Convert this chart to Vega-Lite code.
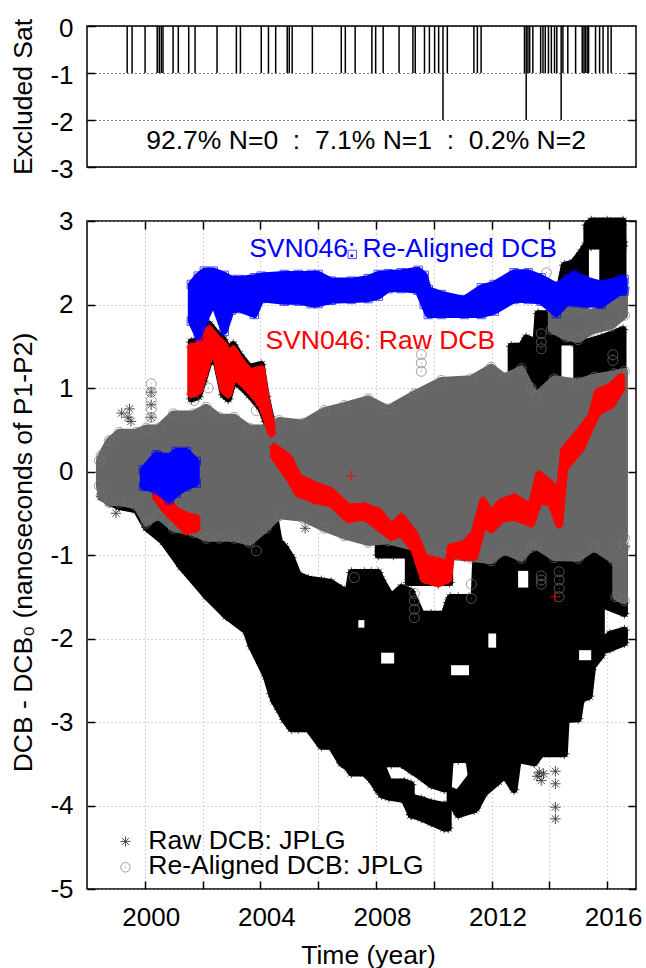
{"$schema":"https://vega.github.io/schema/vega-lite/v6.json","padding":{"left":10,"top":14,"right":0,"bottom":0},"background":"white","spacing":24,
"config":{"font":"Liberation Sans","view":{"stroke":"black","strokeWidth":1.5},"axis":{"labelFont":"Liberation Sans","titleFont":"Liberation Sans","labelFontSize":26,"titleFontSize":26.5,"titleFontWeight":"normal","labelColor":"black","titleColor":"black","tickColor":"black","tickWidth":1.5,"domain":false}},
"datasets":{"top":[{"t":1999.39,"n":-1},{"t":1999.56,"n":-1},{"t":2000.01,"n":-1},{"t":2000.43,"n":-1},{"t":2000.5,"n":-1},{"t":2000.57,"n":-1},{"t":2000.63,"n":-1},{"t":2000.98,"n":-1},{"t":2001.16,"n":-1},{"t":2001.52,"n":-1},{"t":2001.74,"n":-1},{"t":2002.5,"n":-1},{"t":2003.17,"n":-1},{"t":2003.31,"n":-1},{"t":2004.03,"n":-1},{"t":2004.28,"n":-1},{"t":2004.53,"n":-1},{"t":2004.93,"n":-1},{"t":2005.0,"n":-1},{"t":2005.1,"n":-1},{"t":2005.8,"n":-1},{"t":2006.8,"n":-1},{"t":2006.94,"n":-1},{"t":2007.28,"n":-1},{"t":2007.86,"n":-1},{"t":2007.99,"n":-1},{"t":2008.25,"n":-1},{"t":2008.8,"n":-1},{"t":2009.28,"n":-1},{"t":2009.36,"n":-1},{"t":2009.68,"n":-1},{"t":2009.85,"n":-1},{"t":2010.03,"n":-1},{"t":2010.17,"n":-1},{"t":2010.32,"n":-2},{"t":2010.47,"n":-1},{"t":2011.39,"n":-1},{"t":2011.51,"n":-1},{"t":2011.64,"n":-1},{"t":2013.14,"n":-1},{"t":2013.2,"n":-2},{"t":2013.26,"n":-1},{"t":2013.32,"n":-1},{"t":2013.43,"n":-1},{"t":2013.7,"n":-1},{"t":2013.78,"n":-1},{"t":2013.86,"n":-1},{"t":2013.97,"n":-1},{"t":2014.07,"n":-1},{"t":2014.18,"n":-1},{"t":2014.26,"n":-1},{"t":2014.41,"n":-2},{"t":2014.47,"n":-1},{"t":2014.64,"n":-1},{"t":2014.91,"n":-1},{"t":2015.14,"n":-1},{"t":2015.2,"n":-1},{"t":2015.25,"n":-1},{"t":2015.31,"n":-1},{"t":2015.36,"n":-1},{"t":2015.6,"n":-1},{"t":2015.74,"n":-1},{"t":2015.86,"n":-1},{"t":2016.03,"n":-1},{"t":2016.14,"n":-1}],
"note":[{"t":2007.66,"v":-2.45,"c":"k","label":"92.7% N=0\u00a0\u00a0:\u00a0\u00a07.1% N=1\u00a0\u00a0:\u00a0\u00a00.2% N=2"}],
"labels":[{"t":2008.94,"v":2.66,"label":"SVN046: Re-Aligned DCB","c":"#0000ff"},{"t":2008.15,"v":1.56,"label":"SVN046: Raw DCB","c":"#ff0000"}],
"legkeyraw":[{"t":1999.33,"v":-4.43}],"legkeygray":[{"t":1999.33,"v":-4.74}],
"legtext":[{"t":2000.12,"v":-4.42,"label":"Raw DCB: JPLG"},{"t":2000.12,"v":-4.73,"label":"Re-Aligned DCB: JPLG"}],
"holes":[{"p":"1","t":2010.6,"lo":-2.44,"hi":-2.32},{"p":"1","t":2011.22,"lo":-2.44,"hi":-2.32},{"p":"2","t":2008.18,"lo":-2.3,"hi":-2.17},{"p":"2","t":2008.63,"lo":-2.3,"hi":-2.17},{"p":"3","t":2011.89,"lo":-2.11,"hi":-1.94},{"p":"3","t":2012.16,"lo":-2.11,"hi":-1.94},{"p":"4","t":2007.39,"lo":-1.87,"hi":-1.78},{"p":"4","t":2007.6,"lo":-1.87,"hi":-1.78},{"p":"5","t":2015.03,"lo":-2.26,"hi":-2.14},{"p":"5","t":2015.45,"lo":-2.26,"hi":-2.14},{"p":"6","t":2012.92,"lo":-1.39,"hi":-1.19},{"p":"6","t":2013.27,"lo":-1.39,"hi":-1.19}],
"raw":[{"p":"a","t":1998.49,"lo":-0.3,"hi":0},{"p":"a","t":1998.77,"lo":-0.37,"hi":0},{"p":"a","t":1999.12,"lo":-0.42,"hi":0},{"p":"a","t":1999.71,"lo":-0.46,"hi":0},{"p":"a","t":2000.05,"lo":-0.67,"hi":0},{"p":"a","t":2000.64,"lo":-0.84,"hi":-0.3},{"p":"a","t":2001.26,"lo":-1.14,"hi":-0.4},{"p":"a","t":2002.13,"lo":-1.49,"hi":-0.4},{"p":"a","t":2002.82,"lo":-1.73,"hi":-0.4},{"p":"a","t":2003.51,"lo":-1.91,"hi":-0.4},{"p":"a","t":2003.69,"lo":-2.09,"hi":-0.4},{"p":"a","t":2004.2,"lo":-2.45,"hi":-0.4},{"p":"a","t":2004.38,"lo":-2.66,"hi":-0.45},{"p":"a","t":2004.48,"lo":-2.75,"hi":-0.5},{"p":"a","t":2004.65,"lo":-2.85,"hi":-0.84},{"p":"a","t":2004.83,"lo":-2.97,"hi":-0.9},{"p":"a","t":2005.07,"lo":-3.08,"hi":-1.03},{"p":"a","t":2005.31,"lo":-3.08,"hi":-1.24},{"p":"a","t":2005.66,"lo":-3.08,"hi":-1.29},{"p":"a","t":2006.11,"lo":-3.29,"hi":-1.31},{"p":"a","t":2006.45,"lo":-3.29,"hi":-1.33},{"p":"a","t":2006.8,"lo":-3.49,"hi":-1.41},{"p":"a","t":2007.04,"lo":-3.55,"hi":-1.44},{"p":"a","t":2007.15,"lo":-3.61,"hi":-1.21},{"p":"a","t":2007.6,"lo":-3.61,"hi":-1.21},{"p":"a","t":2007.84,"lo":-3.69,"hi":-1.21},{"p":"a","t":2008.08,"lo":-3.82,"hi":-1.21},{"p":"a","t":2008.19,"lo":-3.5,"hi":-1.3},{"p":"a","t":2008.53,"lo":-3.5,"hi":-1.5},{"p":"a","t":2008.88,"lo":-3.5,"hi":-1.39},{"p":"a","t":2009.22,"lo":-3.58,"hi":-1.44},{"p":"a","t":2009.57,"lo":-3.66,"hi":-1.71},{"p":"a","t":2009.91,"lo":-3.75,"hi":-1.71},{"p":"a","t":2010.36,"lo":-3.8,"hi":-1.71},{"p":"a","t":2010.5,"lo":-3.8,"hi":-1.57},{"p":"a","t":2010.57,"lo":-3.45,"hi":-1.51},{"p":"a","t":2010.85,"lo":-3.45,"hi":-1.51},{"p":"a","t":2011.22,"lo":-3.45,"hi":-1.51},{"p":"a","t":2011.4,"lo":-3.9,"hi":-1.51},{"p":"a","t":2011.47,"lo":-4.03,"hi":-0.9},{"p":"a","t":2011.75,"lo":-3.85,"hi":-0.9},{"p":"a","t":2012.23,"lo":-3.71,"hi":-0.9},{"p":"a","t":2012.44,"lo":-3.63,"hi":-0.9},{"p":"a","t":2012.78,"lo":-3.81,"hi":-0.9},{"p":"a","t":2012.92,"lo":-3.45,"hi":-0.9},{"p":"a","t":2013.48,"lo":-3.49,"hi":-0.9},{"p":"a","t":2013.72,"lo":-3.38,"hi":-0.9},{"p":"a","t":2014.52,"lo":-3.38,"hi":-0.9},{"p":"a","t":2014.58,"lo":-2.97,"hi":-0.9},{"p":"a","t":2015.0,"lo":-2.96,"hi":-0.9},{"p":"a","t":2015.1,"lo":-2.73,"hi":-0.9},{"p":"a","t":2015.38,"lo":-2.69,"hi":-0.9},{"p":"a","t":2015.5,"lo":-2.33,"hi":-0.9},{"p":"a","t":2015.8,"lo":-2.2,"hi":-0.9},
{"p":"n","t":2008.19,"lo":-3.87,"hi":-3.5},{"p":"n","t":2008.45,"lo":-3.9,"hi":-3.72},{"p":"n","t":2008.98,"lo":-3.93,"hi":-3.72},{"p":"n","t":2009.22,"lo":-4.11,"hi":-3.75},
{"p":"m","t":2009.22,"lo":-4.11,"hi":-3.9},{"p":"m","t":2009.57,"lo":-4.15,"hi":-3.93},{"p":"m","t":2009.91,"lo":-4.2,"hi":-3.97},{"p":"m","t":2010.36,"lo":-4.27,"hi":-4.0},{"p":"m","t":2010.5,"lo":-4.27,"hi":-4.0},
{"p":"l","t":2010.57,"lo":-3.95,"hi":-3.82},{"p":"l","t":2010.85,"lo":-4.11,"hi":-3.85},{"p":"l","t":2011.4,"lo":-4.05,"hi":-3.6},
{"p":"b","t":2008.08,"lo":-1.0,"hi":-0.7},{"p":"b","t":2008.6,"lo":-1.0,"hi":-0.7},{"p":"b","t":2009.12,"lo":-1.0,"hi":-0.7},
{"p":"c","t":2009.12,"lo":-1.33,"hi":-0.9},{"p":"c","t":2010.55,"lo":-1.33,"hi":-0.9},
{"p":"d","t":2015.8,"lo":-2.15,"hi":-2.05},{"p":"d","t":2016.1,"lo":-2.12,"hi":-1.95},{"p":"d","t":2016.6,"lo":-2.05,"hi":-1.9},
{"p":"e","t":2015.85,"lo":-1.6,"hi":-0.9},{"p":"e","t":2016.6,"lo":-1.7,"hi":-0.9},
{"p":"f","t":2012.68,"lo":0.95,"hi":1.5},{"p":"f","t":2013.03,"lo":0.95,"hi":1.5},{"p":"f","t":2013.2,"lo":0.95,"hi":1.6},{"p":"f","t":2013.54,"lo":0.9,"hi":1.55},{"p":"f","t":2013.61,"lo":0.95,"hi":1.89},{"p":"f","t":2014.0,"lo":0.95,"hi":1.89},{"p":"f","t":2014.07,"lo":1.0,"hi":1.6},{"p":"f","t":2014.3,"lo":1.0,"hi":1.6},
{"p":"g","t":2014.3,"lo":1.55,"hi":1.62},{"p":"g","t":2015.0,"lo":1.55,"hi":1.62},
{"p":"h","t":2014.95,"lo":1.0,"hi":1.5},{"p":"h","t":2015.3,"lo":1.0,"hi":1.55},{"p":"h","t":2015.8,"lo":1.0,"hi":1.6},{"p":"h","t":2016.55,"lo":1.0,"hi":1.7},
{"p":"i","t":2014.31,"lo":2.0,"hi":2.12},{"p":"i","t":2014.52,"lo":2.0,"hi":2.47},{"p":"i","t":2014.83,"lo":2.0,"hi":2.5},{"p":"i","t":2015.1,"lo":2.0,"hi":2.62},{"p":"i","t":2015.25,"lo":2.0,"hi":2.7},
{"p":"j","t":2015.3,"lo":2.7,"hi":2.95},{"p":"j","t":2015.45,"lo":2.7,"hi":3.0},{"p":"j","t":2016.0,"lo":2.7,"hi":3.0},{"p":"j","t":2016.55,"lo":2.7,"hi":3.0},
{"p":"k","t":2015.85,"lo":2.0,"hi":2.75},{"p":"k","t":2016.55,"lo":2.0,"hi":2.75},
{"p":"s","t":2001.61,"lo":0.87,"hi":1.55},{"p":"s","t":2001.85,"lo":0.9,"hi":1.56},{"p":"s","t":2002.02,"lo":1.08,"hi":1.7},{"p":"s","t":2002.23,"lo":1.32,"hi":1.76},{"p":"s","t":2002.47,"lo":1.32,"hi":1.66},{"p":"s","t":2002.72,"lo":0.92,"hi":1.58},{"p":"s","t":2002.89,"lo":0.87,"hi":1.46},{"p":"s","t":2003.06,"lo":1.08,"hi":1.52},{"p":"s","t":2003.27,"lo":1.04,"hi":1.4},{"p":"s","t":2003.62,"lo":0.92,"hi":1.25},{"p":"s","t":2004.03,"lo":0.75,"hi":1.28},{"p":"s","t":2004.2,"lo":0.6,"hi":0.9},{"p":"s","t":2004.38,"lo":0.4,"hi":0.62},
{"p":"o","t":2014.21,"lo":-3.59},{"p":"o","t":2014.21,"lo":-3.74},{"p":"o","t":2014.21,"lo":-4.02},{"p":"o","t":2014.21,"lo":-4.16},{"p":"o","t":2013.58,"lo":-3.65},{"p":"o","t":2013.65,"lo":-3.6},{"p":"o","t":2013.72,"lo":-3.7},{"p":"o","t":2013.8,"lo":-3.62},{"p":"o","t":1999.47,"lo":0.75},{"p":"o","t":1999.42,"lo":0.65},{"p":"o","t":1999.52,"lo":0.6},{"p":"o","t":1999.2,"lo":0.7},{"p":"o","t":1999.0,"lo":-0.5},{"p":"o","t":2005.55,"lo":-0.68},{"p":"o","t":2000.22,"lo":0.95},{"p":"o","t":2000.22,"lo":0.8},{"p":"o","t":2000.22,"lo":0.65}],
"gray":[{"p":"a","t":1998.43,"lo":-0.17,"hi":0.13},{"p":"a","t":1998.49,"lo":-0.29,"hi":0.19},{"p":"a","t":1998.77,"lo":-0.37,"hi":0.37},{"p":"a","t":1999.12,"lo":-0.37,"hi":0.47},{"p":"a","t":1999.71,"lo":-0.41,"hi":0.47},{"p":"a","t":2000.05,"lo":-0.62,"hi":0.52},{"p":"a","t":2000.47,"lo":-0.53,"hi":0.52},{"p":"a","t":2000.99,"lo":-0.68,"hi":0.69},{"p":"a","t":2001.68,"lo":-0.73,"hi":0.69},{"p":"a","t":2002.13,"lo":-0.8,"hi":0.77},{"p":"a","t":2002.58,"lo":-0.8,"hi":0.65},{"p":"a","t":2003.1,"lo":-0.8,"hi":0.65},{"p":"a","t":2003.62,"lo":-0.85,"hi":0.52},{"p":"a","t":2004.2,"lo":-0.68,"hi":0.52},{"p":"a","t":2004.65,"lo":-0.53,"hi":0.61},{"p":"a","t":2005.48,"lo":-0.56,"hi":0.58},{"p":"a","t":2006.21,"lo":-0.68,"hi":0.73},{"p":"a","t":2006.9,"lo":-0.77,"hi":0.79},{"p":"a","t":2007.73,"lo":-0.85,"hi":0.87},{"p":"a","t":2008.42,"lo":-0.83,"hi":0.75},{"p":"a","t":2009.33,"lo":-0.91,"hi":0.93},{"p":"a","t":2010.26,"lo":-1.01,"hi":1.09},{"p":"a","t":2011.3,"lo":-1.04,"hi":1.11},{"p":"a","t":2011.99,"lo":-1.07,"hi":1.25},{"p":"a","t":2012.44,"lo":-0.95,"hi":1.13},{"p":"a","t":2013.03,"lo":-1.04,"hi":1.23},{"p":"a","t":2013.37,"lo":-0.91,"hi":1.0},{"p":"a","t":2013.54,"lo":-0.89,"hi":0.91},{"p":"a","t":2014.17,"lo":-1.03,"hi":1.11},{"p":"a","t":2015.0,"lo":-1.04,"hi":1.07},{"p":"a","t":2015.55,"lo":-0.91,"hi":1.13},{"p":"a","t":2016.24,"lo":-1.07,"hi":1.17},{"p":"a","t":2016.6,"lo":-0.8,"hi":1.2},
{"p":"b","t":2014.07,"lo":1.7,"hi":1.95},{"p":"b","t":2014.58,"lo":1.61,"hi":1.95},{"p":"b","t":2015.0,"lo":1.58,"hi":1.95},{"p":"b","t":2015.45,"lo":1.68,"hi":1.9},{"p":"b","t":2016.14,"lo":1.74,"hi":2.0},{"p":"b","t":2016.6,"lo":1.87,"hi":2.2},
{"p":"c","t":2016.3,"lo":-1.5,"hi":-0.9},{"p":"c","t":2016.6,"lo":-1.55,"hi":-0.9},
{"p":"o","t":2000.22,"lo":1.05},{"p":"o","t":2000.22,"lo":0.95},{"p":"o","t":2000.22,"lo":0.85},{"p":"o","t":2000.22,"lo":0.75},{"p":"o","t":2000.22,"lo":0.65},{"p":"o","t":2009.33,"lo":-1.46},{"p":"o","t":2009.33,"lo":-1.55},{"p":"o","t":2009.33,"lo":-1.65},{"p":"o","t":2009.33,"lo":-1.75},{"p":"o","t":2011.3,"lo":-1.35},{"p":"o","t":2011.3,"lo":-1.52},{"p":"o","t":2013.72,"lo":-1.25},{"p":"o","t":2013.72,"lo":-1.3},{"p":"o","t":2013.72,"lo":-1.35},{"p":"o","t":2014.34,"lo":-1.2},{"p":"o","t":2014.34,"lo":-1.3},{"p":"o","t":2014.34,"lo":-1.4},{"p":"o","t":2014.34,"lo":-1.5},{"p":"o","t":2007.25,"lo":-1.27},{"p":"o","t":2003.86,"lo":-0.95},{"p":"o","t":2009.57,"lo":1.4},{"p":"o","t":2009.57,"lo":1.3},{"p":"o","t":2009.57,"lo":1.2},{"p":"o","t":2002.2,"lo":1.0},{"p":"o","t":2001.7,"lo":0.85},{"p":"o","t":2001.7,"lo":0.95},{"p":"o","t":2003.86,"lo":0.73},{"p":"o","t":2013.72,"lo":1.65},{"p":"o","t":2013.72,"lo":1.55},{"p":"o","t":2013.72,"lo":1.47},{"p":"o","t":2016.2,"lo":1.4},{"p":"o","t":2016.2,"lo":1.33},{"p":"o","t":2013.9,"lo":2.38}],
"red":[{"p":"a","t":2000.4,"lo":-0.31,"hi":-0.25},{"p":"a","t":2000.74,"lo":-0.47,"hi":-0.35},{"p":"a","t":2001.09,"lo":-0.59,"hi":-0.47},{"p":"a","t":2001.44,"lo":-0.71,"hi":-0.53},{"p":"a","t":2001.78,"lo":-0.68,"hi":-0.56},
{"p":"b","t":2001.61,"lo":0.93,"hi":1.49},{"p":"b","t":2001.85,"lo":0.96,"hi":1.5},{"p":"b","t":2002.02,"lo":1.14,"hi":1.64},{"p":"b","t":2002.23,"lo":1.38,"hi":1.7},{"p":"b","t":2002.47,"lo":1.38,"hi":1.6},{"p":"b","t":2002.72,"lo":0.98,"hi":1.52},{"p":"b","t":2002.89,"lo":0.93,"hi":1.4},{"p":"b","t":2003.06,"lo":1.14,"hi":1.46},{"p":"b","t":2003.27,"lo":1.1,"hi":1.34},{"p":"b","t":2003.62,"lo":0.98,"hi":1.19},{"p":"b","t":2004.03,"lo":0.81,"hi":1.22},{"p":"b","t":2004.2,"lo":0.66,"hi":0.84},{"p":"b","t":2004.38,"lo":0.46,"hi":0.56},
{"p":"c","t":2004.48,"lo":0.18,"hi":0.29},{"p":"c","t":2004.97,"lo":-0.06,"hi":0.17},{"p":"c","t":2005.31,"lo":-0.26,"hi":-0.07},{"p":"c","t":2005.87,"lo":-0.34,"hi":-0.16},{"p":"c","t":2006.45,"lo":-0.38,"hi":-0.24},{"p":"c","t":2007.04,"lo":-0.57,"hi":-0.43},{"p":"c","t":2007.6,"lo":-0.54,"hi":-0.42},{"p":"c","t":2008.08,"lo":-0.66,"hi":-0.48},{"p":"c","t":2008.53,"lo":-0.78,"hi":-0.67},{"p":"c","t":2008.88,"lo":-0.74,"hi":-0.55},{"p":"c","t":2009.33,"lo":-0.93,"hi":-0.75},{"p":"c","t":2009.67,"lo":-1.29,"hi":-1.03},{"p":"c","t":2010.16,"lo":-1.34,"hi":-1.08},{"p":"c","t":2010.5,"lo":-1.29,"hi":-1.11},{"p":"c","t":2010.6,"lo":-0.98,"hi":-0.91},{"p":"c","t":2011.06,"lo":-1.02,"hi":-0.87},{"p":"c","t":2011.4,"lo":-1.02,"hi":-0.75},{"p":"c","t":2011.71,"lo":-0.62,"hi":-0.36},{"p":"c","t":2011.99,"lo":-0.69,"hi":-0.51},{"p":"c","t":2012.34,"lo":-0.57,"hi":-0.37},{"p":"c","t":2012.78,"lo":-0.54,"hi":-0.31},{"p":"c","t":2013.37,"lo":-0.62,"hi":-0.43},{"p":"c","t":2013.65,"lo":-0.34,"hi":-0.04},{"p":"c","t":2014.07,"lo":-0.38,"hi":-0.16},{"p":"c","t":2014.34,"lo":-0.63,"hi":-0.28},{"p":"c","t":2014.52,"lo":0.04,"hi":0.26},{"p":"c","t":2015.1,"lo":0.28,"hi":0.5},{"p":"c","t":2015.45,"lo":0.56,"hi":0.66},{"p":"c","t":2015.69,"lo":0.72,"hi":0.95},{"p":"c","t":2016.14,"lo":0.8,"hi":1.02},{"p":"c","t":2016.48,"lo":0.99,"hi":1.13},
{"p":"o","t":2007.15,"lo":-0.05},{"p":"o","t":2014.2,"lo":-1.5}],
"blue":[{"p":"a","t":1999.95,"lo":-0.18,"hi":0.02},{"p":"a","t":2000.4,"lo":-0.22,"hi":0.2},{"p":"a","t":2000.85,"lo":-0.34,"hi":0.17},{"p":"a","t":2001.09,"lo":-0.26,"hi":0.24},{"p":"a","t":2001.44,"lo":-0.18,"hi":0.24},{"p":"a","t":2001.78,"lo":-0.14,"hi":0.12},
{"p":"b","t":2001.61,"lo":1.8,"hi":2.24},{"p":"b","t":2001.85,"lo":1.62,"hi":2.34},{"p":"b","t":2002.06,"lo":1.8,"hi":2.4},{"p":"b","t":2002.37,"lo":2.04,"hi":2.4},{"p":"b","t":2002.75,"lo":1.68,"hi":2.35},{"p":"b","t":2002.99,"lo":1.93,"hi":2.3},{"p":"b","t":2003.27,"lo":1.95,"hi":2.3},{"p":"b","t":2003.79,"lo":1.88,"hi":2.32},{"p":"b","t":2004.03,"lo":2.07,"hi":2.34},{"p":"b","t":2004.83,"lo":2.04,"hi":2.36},{"p":"b","t":2005.31,"lo":2.04,"hi":2.36},{"p":"b","t":2005.76,"lo":2.01,"hi":2.36},{"p":"b","t":2006.0,"lo":2.01,"hi":2.36},{"p":"b","t":2006.45,"lo":2.05,"hi":2.28},{"p":"b","t":2007.15,"lo":2.06,"hi":2.28},{"p":"b","t":2007.73,"lo":2.07,"hi":2.31},{"p":"b","t":2008.08,"lo":2.1,"hi":2.36},{"p":"b","t":2008.42,"lo":2.19,"hi":2.37},{"p":"b","t":2008.88,"lo":2.19,"hi":2.38},{"p":"b","t":2009.46,"lo":2.17,"hi":2.41},{"p":"b","t":2009.67,"lo":2.0,"hi":2.35},{"p":"b","t":2009.81,"lo":1.88,"hi":2.18},{"p":"b","t":2010.26,"lo":1.88,"hi":2.12},{"p":"b","t":2011.06,"lo":1.88,"hi":2.06},{"p":"b","t":2011.65,"lo":1.88,"hi":2.2},{"p":"b","t":2012.09,"lo":1.92,"hi":2.24},{"p":"b","t":2012.78,"lo":2.06,"hi":2.38},{"p":"b","t":2013.27,"lo":2.06,"hi":2.38},{"p":"b","t":2013.72,"lo":2.04,"hi":2.32},{"p":"b","t":2014.24,"lo":1.89,"hi":2.22},{"p":"b","t":2014.65,"lo":2.04,"hi":2.31},{"p":"b","t":2014.86,"lo":2.02,"hi":2.36},{"p":"b","t":2015.21,"lo":2.01,"hi":2.3},{"p":"b","t":2015.8,"lo":2.0,"hi":2.24},{"p":"b","t":2016.48,"lo":2.16,"hi":2.3},{"p":"b","t":2016.59,"lo":2.16,"hi":2.3},
{"p":"o","t":2007.18,"lo":2.6}]},
"vconcat":[
{"width":549,"height":141,"resolve":{"axis":{"y":"independent"}},"layer":[
{"data":{"name":"top"},"mark":{"type":"rule","color":"black","strokeWidth":1.5},"encoding":{"x":{"field":"t","type":"quantitative","scale":{"domain":[1998,2017],"nice":false,"zero":false},"axis":{"values":[2000,2002,2004,2006,2008,2010,2012,2014,2016],"labels":false,"title":null,"grid":true,"gridColor":"black","gridDash":[1,3],"gridWidth":1,"tickSize":-8}},"y":{"field":"n","type":"quantitative","scale":{"domain":[-3,0],"nice":false,"zero":false},"axis":{"values":[0,-1,-2,-3],"title":"Excluded Sat","titlePadding":12,"grid":true,"gridColor":"black","gridDash":[1,3],"gridWidth":1,"tickSize":-8,"labelExpr":"''+datum.value","labelPadding":22,"labelAlign":"right","labelOffset":2}},"y2":{"datum":0}}},
{"data":{"name":"note"},"mark":{"type":"text","fontSize":26.5,"font":"Liberation Sans","color":"black"},"encoding":{"x":{"field":"t","type":"quantitative","axis":null},"y":{"field":"v","type":"quantitative","axis":{"orient":"right","values":[-1,-2],"labels":false,"title":null,"grid":false,"tickSize":-8}},"text":{"field":"label"}}}
]},
{"width":549,"height":668,"resolve":{"axis":{"x":"independent","y":"independent"}},
"layer":[
{"data":{"name":"raw"},"transform":[{"filter":"datum.p!='o'"}],"mark":{"type":"area","color":"black","stroke":"black","strokeWidth":7,"strokeJoin":"round"},"encoding":{"x":{"field":"t","type":"quantitative","scale":{"domain":[1998,2017],"nice":false,"zero":false},"axis":{"values":[2000,2002,2004,2006,2008,2010,2012,2014,2016],"labelExpr":"datum.value%4==0?''+datum.value:''","labelOffset":6,"labelPadding":23,"title":"Time (year)","titleX":281,"titlePadding":12,"grid":true,"gridColor":"#aaaaaa","gridDash":[1,3],"gridWidth":1.2,"tickSize":-8}},"y":{"field":"lo","type":"quantitative","scale":{"domain":[-5,3],"nice":false,"zero":false},"axis":{"values":[3,2,1,0,-1,-2,-3,-4,-5],"labelExpr":"''+datum.value","labelPadding":22,"title":"DCB - DCB\u2080 (nanoseconds of P1-P2)","titleY":331,"titlePadding":12,"grid":true,"gridColor":"#aaaaaa","gridDash":[1,3],"gridWidth":1.2,"tickSize":-8}},"y2":{"field":"hi"},"detail":{"field":"p"}}},
{"data":{"name":"raw"},"transform":[{"fold":["lo","hi"],"as":["edge","v"]}],"mark":{"type":"point","strokeWidth":1,"filled":false,"color":"black","shape":"M-1,0L1,0M0,-1L0,1M-0.7,-0.7L0.7,0.7M-0.7,0.7L0.7,-0.7"},"encoding":{"x":{"field":"t","type":"quantitative","axis":null},"y":{"field":"v","type":"quantitative","axis":null},"size":{"value":110}}},
{"data":{"name":"holes"},"mark":{"type":"area","color":"white"},"encoding":{"x":{"field":"t","type":"quantitative","axis":null},"y":{"field":"lo","type":"quantitative","axis":null},"y2":{"field":"hi"},"detail":{"field":"p"}}},
{"data":{"name":"gray"},"transform":[{"filter":"datum.p!='o'"}],"mark":{"type":"area","color":"#666666","stroke":"#666666","strokeWidth":7,"strokeJoin":"round"},"encoding":{"x":{"field":"t","type":"quantitative","axis":null},"y":{"field":"lo","type":"quantitative","axis":null},"y2":{"field":"hi"},"detail":{"field":"p"}}},
{"data":{"name":"gray"},"transform":[{"fold":["lo","hi"],"as":["edge","v"]}],"mark":{"type":"point","strokeWidth":1,"filled":false,"color":"#777777","shape":"M-1,0A1,1 0 1,1 1,0A1,1 0 1,1 -1,0M0,-0.12L0,0.12"},"encoding":{"x":{"field":"t","type":"quantitative","axis":null},"y":{"field":"v","type":"quantitative","axis":null},"size":{"value":100}}},
{"data":{"name":"red"},"transform":[{"filter":"datum.p!='o'"}],"mark":{"type":"area","color":"#ff0000","stroke":"#ff0000","strokeWidth":8,"strokeJoin":"round"},"encoding":{"x":{"field":"t","type":"quantitative","axis":null},"y":{"field":"lo","type":"quantitative","axis":null},"y2":{"field":"hi"},"detail":{"field":"p"}}},
{"data":{"name":"red"},"transform":[{"fold":["lo","hi"],"as":["edge","v"]}],"mark":{"type":"point","strokeWidth":1.2,"filled":false,"color":"#ff0000","shape":"M-1,0L1,0M0,-1L0,1"},"encoding":{"x":{"field":"t","type":"quantitative","axis":null},"y":{"field":"v","type":"quantitative","axis":null},"size":{"value":110}}},
{"data":{"name":"blue"},"transform":[{"filter":"datum.p!='o'"}],"mark":{"type":"area","color":"#0000ff","stroke":"#0000ff","strokeWidth":7,"strokeJoin":"round"},"encoding":{"x":{"field":"t","type":"quantitative","axis":null},"y":{"field":"lo","type":"quantitative","axis":null},"y2":{"field":"hi"},"detail":{"field":"p"}}},
{"data":{"name":"blue"},"transform":[{"fold":["lo","hi"],"as":["edge","v"]}],"mark":{"type":"point","strokeWidth":1,"filled":false,"color":"#0000ff","shape":"square"},"encoding":{"x":{"field":"t","type":"quantitative","axis":null},"y":{"field":"v","type":"quantitative","axis":null},"size":{"value":70}}},
{"data":{"name":"legkeyraw"},"mark":{"type":"point","strokeWidth":1,"filled":false,"color":"black","shape":"M-1,0L1,0M0,-1L0,1M-0.7,-0.7L0.7,0.7M-0.7,0.7L0.7,-0.7"},"encoding":{"x":{"field":"t","type":"quantitative","axis":null},"y":{"field":"v","type":"quantitative","axis":null},"size":{"value":100}}},
{"data":{"name":"legkeygray"},"mark":{"type":"point","strokeWidth":1,"filled":false,"color":"#777777","shape":"M-1,0A1,1 0 1,1 1,0A1,1 0 1,1 -1,0M0,-0.12L0,0.12"},"encoding":{"x":{"field":"t","type":"quantitative","axis":null},"y":{"field":"v","type":"quantitative","axis":null},"size":{"value":90}}},
{"data":{"name":"legtext"},"mark":{"type":"text","fontSize":26.5,"font":"Liberation Sans","align":"left","color":"black"},"encoding":{"x":{"field":"t","type":"quantitative","axis":null},"y":{"field":"v","type":"quantitative","axis":null},"text":{"field":"label"}}},
{"data":{"name":"labels"},"mark":{"type":"text","fontSize":26.5,"font":"Liberation Sans"},"encoding":{"x":{"field":"t","type":"quantitative","axis":{"orient":"top","values":[2000,2002,2004,2006,2008,2010,2012,2014,2016],"labels":false,"title":null,"grid":false,"tickSize":-8}},"y":{"field":"v","type":"quantitative","axis":{"orient":"right","values":[3,2,1,0,-1,-2,-3,-4,-5],"labels":false,"title":null,"grid":false,"tickSize":-8}},"text":{"field":"label"},"color":{"field":"c","type":"nominal","scale":null}}}
]}
]}
